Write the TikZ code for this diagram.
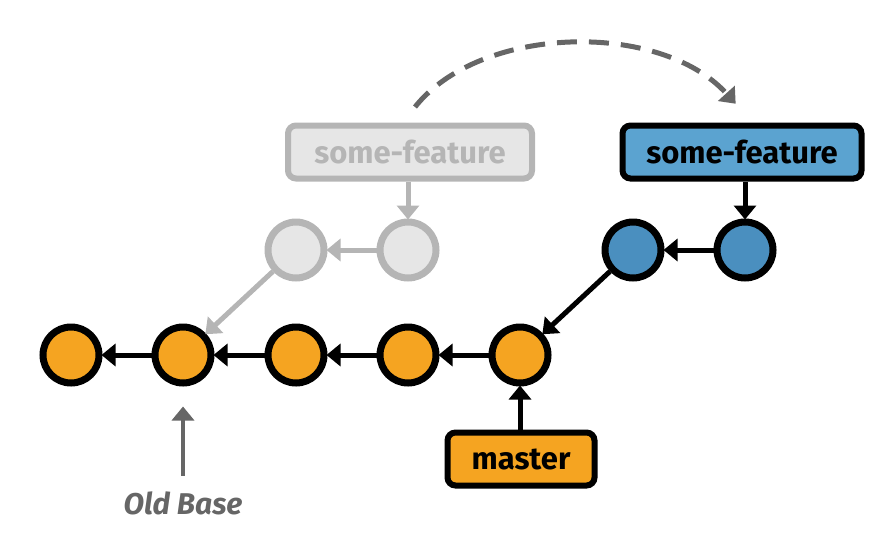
\documentclass[tikz,border=0pt]{standalone}
\usepackage{fontspec}
\setmainfont{Fira Sans}
\usetikzlibrary{arrows.meta}
\definecolor{commitorange}{HTML}{F5A421}
\definecolor{commitblue}{HTML}{4A8FBF}
\definecolor{branchblue}{HTML}{5BA3D0}
\definecolor{oldfill}{HTML}{E6E6E6}
\definecolor{oldline}{HTML}{B5B5B5}
\definecolor{notegray}{HTML}{666666}
\tikzset{
  commit/.style = {circle, draw = black, line width = 7pt, minimum size = 56pt, inner sep = 0pt},
  branch/.style = {draw = black, rounded corners = 8pt, line width = 6pt, minimum height = 53pt,
                   font = \fontsize{31}{34}\selectfont\bfseries},
  parent/.style = {-{Triangle[length = 14pt, width = 22pt]}, line width = 5pt, shorten >= -1pt}
}
\begin{document}
\begin{tikzpicture}[x = 1pt, y = -1pt]
    \useasboundingbox (0,0) rectangle (890,533);

    \node[commit, fill = commitorange] (c1) at (71,355) {};
    \node[commit, fill = commitorange] (c2) at (183,355) {};
    \node[commit, fill = commitorange] (c3) at (296,355) {};
    \node[commit, fill = commitorange] (c4) at (408,355) {};
    \node[commit, fill = commitorange] (c5) at (520,355) {};

    \node[commit, fill = commitblue] (b1) at (633,250) {};
    \node[commit, fill = commitblue] (b2) at (745,250) {};

    \node[commit, fill = oldfill, draw = oldline] (g1) at (296,250) {};
    \node[commit, fill = oldfill, draw = oldline] (g2) at (408,250) {};

    \node[branch, fill = oldfill, draw = oldline, text = oldline, minimum width = 244pt] (oldfeature) at (410,152) {some-feature};
    \node[branch, fill = branchblue, minimum width = 239pt] (feature) at (742,152) {some-feature};
    \node[branch, fill = commitorange, minimum width = 147pt] (master) at (521,459) {master};

    \draw[parent] (c2) -- (c1);
    \draw[parent] (c3) -- (c2);
    \draw[parent] (c4) -- (c3);
    \draw[parent] (c5) -- (c4);
    \draw[parent] (b2) -- (b1);
    \draw[parent] (b1) -- (c5);
    \draw[parent, oldline] (g2) -- (g1);
    \draw[parent, oldline] (g1) -- (c2);

    \draw[parent] (feature.south -| b2) -- (b2);
    \draw[parent, oldline] (oldfeature.south -| g2) -- (g2);
    \draw[parent] (master.north -| c5) -- (c5);

    \node[text = notegray, font = \fontsize{30}{33}\selectfont\bfseries\itshape] (oldbase) at (183,503) {Old Base};
    \coordinate (obtail) at ([yshift = 12pt]oldbase.north);
    \draw[parent, notegray, line width = 4pt, shorten >= 20pt] (obtail) -- (c2);

    \coordinate (movefrom) at (415,107);
    \coordinate (moveto) at (735,103);
    \draw[parent, notegray, dash pattern = on 20pt off 12pt] (movefrom) .. controls (480,25) and (660,20) .. (moveto);
\end{tikzpicture}
\end{document}
